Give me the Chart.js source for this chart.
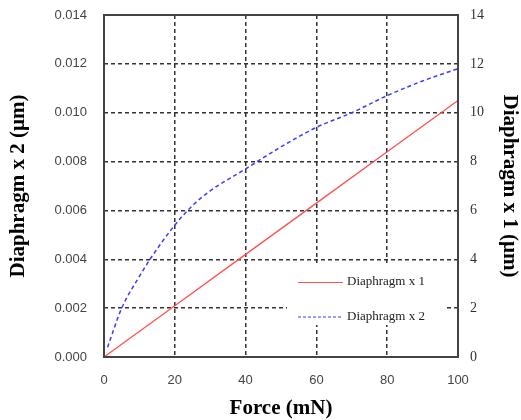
<!DOCTYPE html>
<html>
<head>
<meta charset="utf-8">
<script src="https://cdn.jsdelivr.net/npm/chart.js@4.4.0/dist/chart.umd.min.js"></script>
<style>
  html, body { margin: 0; padding: 0; background: #fff; }
  #wrap { width: 521px; height: 420px; }
</style>
</head>
<body>
<div id="wrap"><canvas id="graphique" width="521" height="420"></canvas></div>
<script>
// force values (mN) and readings
var forceX1 = [0, 20, 40, 60, 80, 100]
var diaphragmX1 = [0, 2.1, 4.2, 6.3, 8.4, 10.5]          // right axis, µm
var forceX2 = [1, 5, 10, 13, 20, 25, 30, 40, 50, 60, 70, 80, 90, 100]
var diaphragmX2 = [0.0004, 0.002, 0.0033, 0.004, 0.0054, 0.0062, 0.0068, 0.0077, 0.0086, 0.0094, 0.0100, 0.0107, 0.0113, 0.0118]  // left axis
var xTicks = [0, 20, 40, 60, 80, 100]
var leftTicks = [0, 0.002, 0.004, 0.006, 0.008, 0.010, 0.012, 0.014]
var rightTicks = [0, 2, 4, 6, 8, 10, 12, 14]

function pairs(xs, ys) {
    return xs.map(function (x, i) { return {x: x, y: ys[i]} })
}

var sans = "'Liberation Sans', Arial, sans-serif"
var serif = "'Liberation Serif', 'Times New Roman', serif"

// box with the two samples, bottom right of the plot
var insideLegend = {
    id: 'insideLegend',
    afterDatasetsDraw: function (chart) {
        var c = chart.ctx
        var area = chart.chartArea
        var x0 = area.right - 171, y0 = area.bottom - 94
        c.save()
        c.fillStyle = '#fff'
        c.fillRect(x0, y0, 158, 62)
        var rows = [chart.data.datasets[0], chart.data.datasets[1]]
        rows.forEach(function (ds, i) {
            var y = y0 + 19 + i * 34.5
            c.beginPath()
            c.strokeStyle = ds.borderColor
            c.lineWidth = 1
            c.setLineDash(ds.borderDash ? [3, 2] : [])
            c.moveTo(x0 + 11, y + 0.5)
            c.lineTo(x0 + 56, y + 0.5)
            c.stroke()
            c.setLineDash([])
            c.fillStyle = '#222'
            c.font = '13px ' + serif
            c.textBaseline = 'middle'
            c.fillText(ds.label, x0 + 60, y)
        })
        c.restore()
    }
}

function fitSide(w) {
    return function (s) {
        s.width = w
        s.paddingTop = 0
        s.paddingBottom = 0
    }
}

var ctx = document.getElementById('graphique')
var lineChart = new Chart(ctx, {
    type: 'line',
    data: {
        datasets: [{
            label: 'Diaphragm x 1',
            data: pairs(forceX1, diaphragmX1),
            yAxisID: 'y1',
            borderColor: 'rgb(255,80,80)',
            borderWidth: 1.3,
            pointRadius: 0,
            tension: 0
        }, {
            label: 'Diaphragm x 2',
            data: pairs(forceX2, diaphragmX2),
            yAxisID: 'y',
            borderColor: 'rgb(60,60,255)',
            borderWidth: 1.5,
            borderDash: [4, 3],
            pointRadius: 0,
            cubicInterpolationMode: 'monotone'
        }]
    },
    plugins: [insideLegend, {
        id: 'frame',
        afterDraw: function (chart) {
            var a = chart.chartArea
            var c = chart.ctx
            c.save()
            c.strokeStyle = '#444'
            c.lineWidth = 2
            c.strokeRect(a.left, a.top, a.right - a.left, a.bottom - a.top)
            c.restore()
        }
    }],
    options: {
        responsive: false,
        animation: false,
        layout: {padding: {top: 15, left: 0, right: 0, bottom: 0}},
        plugins: {legend: {display: false}, tooltip: {enabled: false}},
        scales: {
            x: {
                type: 'linear',
                min: 0, max: 100,
                afterBuildTicks: function (s) { s.ticks = xTicks.map(function (v) { return {value: v} }) },
                afterFit: function (s) { s.height = 63; s.paddingLeft = 0; s.paddingRight = 0 },
                grid: {color: '#333', lineWidth: 1.5, tickLength: 0, drawTicks: false},
                border: {display: false, dash: [4, 3]},
                ticks: {padding: 16, color: '#444', font: {family: sans, size: 13}},
                title: {display: true, text: 'Force (mN)', color: '#000', padding: 0,
                        font: {family: serif, size: 21, weight: 'bold', lineHeight: 1.1}}
            },
            y: {
                position: 'left',
                min: 0, max: 0.014,
                afterBuildTicks: function (s) { s.ticks = leftTicks.map(function (v) { return {value: v} }) },
                afterFit: fitSide(104),
                grid: {color: '#333', lineWidth: 1.5, drawTicks: false},
                border: {display: false, dash: [4, 3]},
                ticks: {padding: 17, color: '#444', font: {family: sans, size: 13},
                        callback: function (v) { return v.toFixed(3) }},
                title: {display: true, text: 'Diaphragm x 2 (µm)', color: '#000', padding: {top: 7, bottom: 0},
                        font: {family: serif, size: 21, weight: 'bold', lineHeight: 1.1}}
            },
            y1: {
                position: 'right',
                min: 0, max: 14,
                afterBuildTicks: function (s) { s.ticks = rightTicks.map(function (v) { return {value: v} }) },
                afterFit: fitSide(63),
                grid: {display: false, drawTicks: false},
                border: {display: false},
                ticks: {padding: 12, color: '#333', font: {family: serif, size: 14}},
                title: {display: true, text: 'Diaphragm x 1 (µm)', color: '#000', padding: 0,
                        font: {family: serif, size: 21, weight: 'bold', lineHeight: 1.1}}
            }
        }
    }
})
</script>
</body>
</html>
